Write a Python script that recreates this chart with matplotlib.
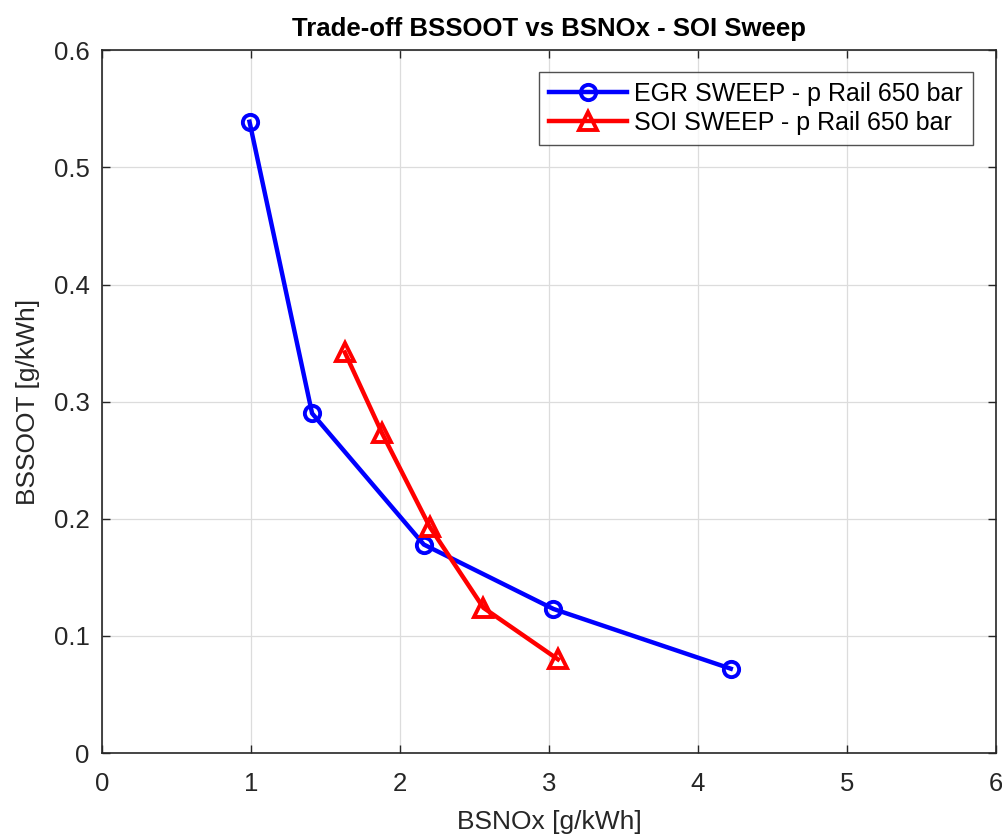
import matplotlib
matplotlib.use("Agg")
import matplotlib.pyplot as plt

# BSNOx [g/kWh] vs BSSOOT [g/kWh]
egr_nox = [0.99, 1.41, 2.16, 3.03, 4.22]
egr_soot = [0.539, 0.290, 0.178, 0.123, 0.072]

soi_nox = [1.63, 1.88, 2.20, 2.56, 3.06]
soi_soot = [0.342, 0.273, 0.193, 0.124, 0.080]

x_ticks = [0, 1, 2, 3, 4, 5, 6]
y_ticks = [0, 0.1, 0.2, 0.3, 0.4, 0.5, 0.6]

plt.rcParams['font.family'] = ['Liberation Sans', 'DejaVu Sans']

fig = plt.figure(figsize=(10.03, 8.38), dpi=100)
ax = fig.add_axes([0.1017, 0.1014, 0.8913, 0.8386])

ax.plot(egr_nox, egr_soot, color='#0000ff', lw=3.2, marker='o', ms=11,
        mfc='none', mew=2.8, label='EGR SWEEP - p Rail 650 bar', zorder=3)
ax.plot(soi_nox, soi_soot, color='#ff0000', lw=3.2, marker='^', ms=13,
        mfc='none', mew=2.8, label='SOI SWEEP - p Rail 650 bar', zorder=3)

ax.set_xlim(0, 6)
ax.set_ylim(0, 0.6)
ax.set_xticks(x_ticks)
ax.set_yticks(y_ticks)
ax.set_xticklabels([str(t) for t in x_ticks])
ax.set_yticklabels(['0', '0.1', '0.2', '0.3', '0.4', '0.5', '0.6'])
ax.tick_params(direction='in', top=True, right=True, labelsize=18.5,
               length=6, width=1, colors='#262626', pad=9)
ax.tick_params(axis='x', pad=14)
ax.grid(True, color='#dcdcdc', lw=0.9)
ax.set_axisbelow(True)
for sp in ax.spines.values():
    sp.set_color('#262626')
    sp.set_linewidth(1.2)

ax.set_xlabel('BSNOx [g/kWh]', fontsize=19, color='#262626', labelpad=10)
ax.set_ylabel('BSSOOT [g/kWh]', fontsize=19, color='#262626', labelpad=10)
ax.set_title('Trade-off BSSOOT vs BSNOx - SOI Sweep', fontsize=18.5,
             fontweight='bold', pad=10)

leg = ax.legend(loc='upper right', fontsize=18, frameon=True, fancybox=False,
                edgecolor='#262626', handlelength=3.1, borderpad=0.4,
                labelspacing=0.22, handletextpad=0.3,
                bbox_to_anchor=(0.9885, 0.9875))
leg.get_frame().set_linewidth(1.0)

fig.savefig('out.png', dpi=100)
